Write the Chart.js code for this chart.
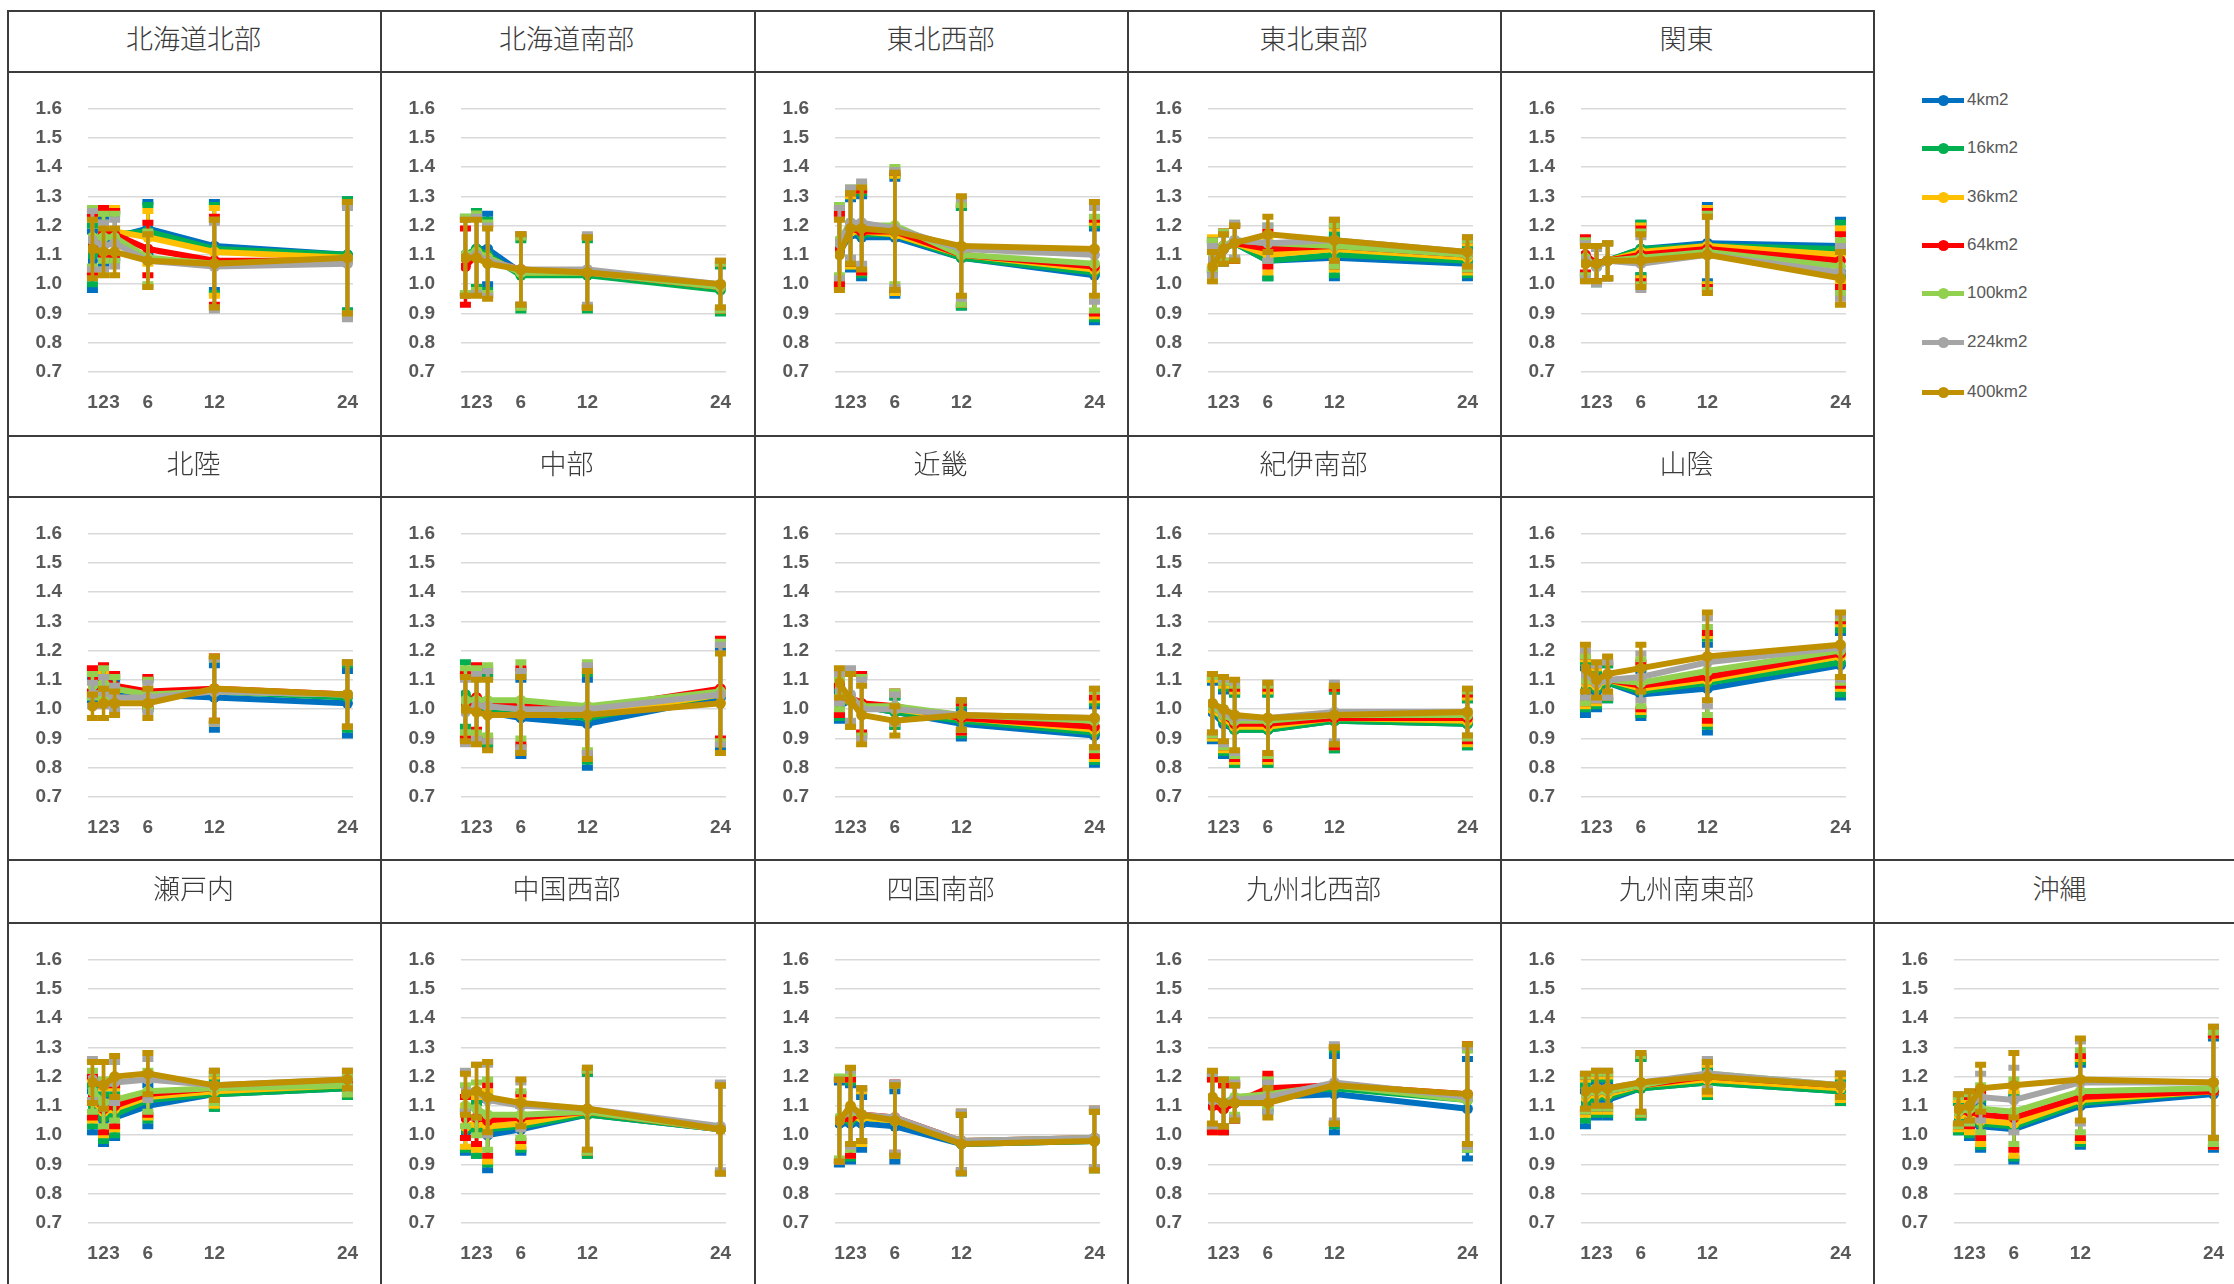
<!DOCTYPE html>
<html lang="ja">
<head>
<meta charset="utf-8">
<title>地域別 比率</title>
<script src="https://cdn.jsdelivr.net/npm/chart.js"></script>
<style>
  html, body { margin: 0; padding: 0; background: #fff; }
  body { width: 2234px; height: 1284px; position: relative; overflow: hidden; }
  .hline, .vline { position: absolute; background: #3c3c3c; }
  .title { position: absolute; text-align: center; font-family: "Noto Sans CJK JP", sans-serif;
           font-size: 27px; font-weight: 300; color: #3a3a3a; }
  canvas { position: absolute; }
  .legend { position: absolute; left: 1922px; top: 0; font-family: "Liberation Sans", Arial, sans-serif;
            font-size: 17px; color: #595959; }
  .legend .item { position: absolute; left: 0; height: 20px; white-space: nowrap; }
  .legend .sw { position: absolute; left: 0; top: 8px; width: 42px; height: 5px; }
  .legend .dot { position: absolute; left: 16px; top: 5px; width: 11px; height: 11px; border-radius: 50%; }
  .legend .txt { position: absolute; left: 45px; top: 0; line-height: 20px; }
</style>
</head>
<body>
<script>
// data
const regions = ['北海道北部', '北海道南部', '東北西部', '東北東部', '関東',
                 '北陸', '中部', '近畿', '紀伊南部', '山陰',
                 '瀬戸内', '中国西部', '四国南部', '九州北西部', '九州南東部', '沖縄'];
const xHours = [1, 2, 3, 6, 12, 24];
const yTicks = [0.7, 0.8, 0.9, 1.0, 1.1, 1.2, 1.3, 1.4, 1.5, 1.6];
const seriesNames = ['4km2', '16km2', '36km2', '64km2', '100km2', '224km2', '400km2'];
const seriesColors = ['#0070C0', '#00B050', '#FFC000', '#FF0000', '#92D050', '#A5A5A5', '#BF9000'];

// one row per region, values at 1,2,3,6,12,24
const s4km2 = [
  [1.08, 1.15, 1.16, 1.19, 1.13, 1.10], [1.09, 1.12, 1.12, 1.04, 1.04, 0.99],
  [1.11, 1.17, 1.16, 1.16, 1.09, 1.03], [1.10, 1.12, 1.14, 1.08, 1.09, 1.07],
  [1.09, 1.06, 1.08, 1.12, 1.14, 1.13], [1.07, 1.07, 1.06, 1.05, 1.04, 1.02],
  [1.01, 1.01, 0.99, 0.97, 0.95, 1.04], [1.01, 1.03, 1.01, 0.99, 0.95, 0.91],
  [0.99, 0.95, 0.93, 0.93, 0.96, 0.95], [1.06, 1.06, 1.09, 1.05, 1.07, 1.15],
  [1.08, 1.05, 1.06, 1.10, 1.14, 1.16], [1.01, 1.02, 1.00, 1.02, 1.07, 1.02],
  [1.04, 1.04, 1.04, 1.03, 0.97, 0.98], [1.11, 1.09, 1.11, 1.13, 1.14, 1.09],
  [1.09, 1.12, 1.12, 1.16, 1.18, 1.15], [1.06, 1.04, 1.03, 1.02, 1.10, 1.14]
];
const s16km2 = [
  [1.10, 1.16, 1.17, 1.18, 1.12, 1.10], [1.10, 1.12, 1.10, 1.03, 1.03, 0.98],
  [1.13, 1.18, 1.17, 1.17, 1.09, 1.04], [1.09, 1.12, 1.14, 1.08, 1.10, 1.08],
  [1.09, 1.07, 1.08, 1.12, 1.13, 1.12], [1.08, 1.09, 1.07, 1.05, 1.06, 1.04],
  [1.05, 1.02, 1.00, 0.99, 0.97, 1.05], [1.02, 1.03, 1.01, 0.99, 0.96, 0.92],
  [1.00, 0.96, 0.93, 0.93, 0.96, 0.95], [1.08, 1.07, 1.09, 1.06, 1.09, 1.16],
  [1.10, 1.06, 1.07, 1.12, 1.14, 1.16], [1.02, 1.02, 1.02, 1.03, 1.07, 1.02],
  [1.05, 1.05, 1.06, 1.05, 0.97, 0.98], [1.11, 1.10, 1.12, 1.14, 1.16, 1.12],
  [1.11, 1.13, 1.13, 1.16, 1.18, 1.15], [1.06, 1.05, 1.04, 1.03, 1.11, 1.15]
];
const s36km2 = [
  [1.14, 1.18, 1.18, 1.16, 1.11, 1.09], [1.09, 1.11, 1.09, 1.04, 1.04, 0.99],
  [1.12, 1.18, 1.18, 1.17, 1.10, 1.05], [1.11, 1.13, 1.14, 1.10, 1.12, 1.09],
  [1.08, 1.07, 1.08, 1.11, 1.13, 1.10], [1.09, 1.08, 1.07, 1.05, 1.06, 1.05],
  [1.02, 1.02, 1.01, 1.00, 0.98, 1.05], [1.03, 1.03, 1.01, 1.00, 0.97, 0.93],
  [1.00, 0.97, 0.94, 0.94, 0.97, 0.96], [1.09, 1.08, 1.10, 1.07, 1.10, 1.18],
  [1.12, 1.08, 1.09, 1.13, 1.15, 1.17], [1.03, 1.04, 1.03, 1.04, 1.08, 1.02],
  [1.05, 1.06, 1.06, 1.05, 0.98, 0.98], [1.10, 1.09, 1.12, 1.15, 1.17, 1.13],
  [1.13, 1.14, 1.14, 1.17, 1.19, 1.16], [1.07, 1.06, 1.05, 1.04, 1.12, 1.15]
];
const s64km2 = [
  [1.13, 1.18, 1.17, 1.12, 1.08, 1.08], [1.06, 1.10, 1.08, 1.05, 1.04, 0.99],
  [1.12, 1.19, 1.18, 1.18, 1.10, 1.06], [1.10, 1.13, 1.14, 1.12, 1.13, 1.10],
  [1.10, 1.07, 1.08, 1.10, 1.12, 1.08], [1.10, 1.10, 1.08, 1.06, 1.07, 1.05],
  [1.01, 1.04, 1.02, 1.01, 1.00, 1.07], [1.03, 1.04, 1.02, 1.01, 0.97, 0.94],
  [1.01, 0.98, 0.95, 0.95, 0.97, 0.97], [1.10, 1.09, 1.10, 1.08, 1.11, 1.19],
  [1.13, 1.09, 1.10, 1.14, 1.16, 1.18], [1.06, 1.06, 1.05, 1.06, 1.08, 1.02],
  [1.05, 1.06, 1.07, 1.06, 0.98, 0.99], [1.10, 1.09, 1.11, 1.16, 1.17, 1.14],
  [1.14, 1.15, 1.15, 1.17, 1.20, 1.17], [1.08, 1.08, 1.07, 1.06, 1.13, 1.15]
];
const s100km2 = [
  [1.16, 1.16, 1.16, 1.09, 1.07, 1.08], [1.10, 1.11, 1.09, 1.04, 1.04, 0.99],
  [1.15, 1.21, 1.20, 1.20, 1.10, 1.07], [1.10, 1.13, 1.15, 1.14, 1.13, 1.10],
  [1.09, 1.06, 1.08, 1.09, 1.11, 1.06], [1.08, 1.09, 1.07, 1.05, 1.06, 1.05],
  [1.03, 1.03, 1.03, 1.03, 1.01, 1.06], [1.05, 1.04, 1.01, 1.01, 0.98, 0.96],
  [1.01, 0.98, 0.96, 0.96, 0.98, 0.98], [1.10, 1.09, 1.10, 1.09, 1.13, 1.20],
  [1.15, 1.11, 1.12, 1.15, 1.16, 1.17], [1.10, 1.09, 1.07, 1.07, 1.08, 1.02],
  [1.06, 1.08, 1.07, 1.05, 0.98, 0.99], [1.12, 1.11, 1.13, 1.14, 1.17, 1.12],
  [1.14, 1.15, 1.15, 1.17, 1.21, 1.17], [1.08, 1.09, 1.09, 1.08, 1.15, 1.16]
];
const s224km2 = [
  [1.15, 1.13, 1.14, 1.08, 1.06, 1.07], [1.09, 1.10, 1.08, 1.05, 1.05, 1.00],
  [1.14, 1.21, 1.21, 1.19, 1.12, 1.10], [1.08, 1.12, 1.15, 1.14, 1.15, 1.11],
  [1.08, 1.06, 1.08, 1.07, 1.10, 1.04], [1.05, 1.06, 1.04, 1.04, 1.06, 1.05],
  [0.99, 1.01, 1.01, 1.00, 1.00, 1.05], [1.07, 1.05, 1.00, 1.00, 0.98, 0.97],
  [1.02, 0.99, 0.97, 0.97, 0.99, 0.99], [1.12, 1.09, 1.10, 1.11, 1.16, 1.21],
  [1.19, 1.17, 1.18, 1.19, 1.17, 1.19], [1.15, 1.15, 1.12, 1.10, 1.09, 1.03],
  [1.05, 1.09, 1.07, 1.06, 0.98, 0.99], [1.12, 1.11, 1.12, 1.13, 1.18, 1.13],
  [1.15, 1.16, 1.16, 1.18, 1.21, 1.17], [1.09, 1.10, 1.13, 1.12, 1.18, 1.18]
];
const s400km2 = [
  [1.12, 1.11, 1.11, 1.08, 1.07, 1.09], [1.09, 1.09, 1.07, 1.05, 1.04, 1.00],
  [1.10, 1.19, 1.19, 1.18, 1.13, 1.12], [1.06, 1.12, 1.14, 1.17, 1.15, 1.11],
  [1.07, 1.07, 1.08, 1.08, 1.10, 1.02], [1.01, 1.02, 1.02, 1.02, 1.07, 1.05],
  [1.00, 0.99, 0.98, 0.98, 0.98, 1.02], [1.09, 1.03, 0.98, 0.96, 0.98, 0.97],
  [1.02, 1.00, 0.98, 0.97, 0.98, 0.99], [1.14, 1.10, 1.12, 1.14, 1.18, 1.22],
  [1.18, 1.17, 1.20, 1.21, 1.17, 1.19], [1.14, 1.15, 1.13, 1.11, 1.09, 1.02],
  [1.05, 1.10, 1.07, 1.05, 0.97, 0.98], [1.13, 1.11, 1.11, 1.11, 1.17, 1.14],
  [1.15, 1.16, 1.16, 1.18, 1.20, 1.17], [1.09, 1.10, 1.16, 1.17, 1.19, 1.18]
];
// error bar half widths per region
const errBars = [
  [0.10, 0.08, 0.08, 0.09, 0.15, 0.19], [0.13, 0.13, 0.12, 0.12, 0.12, 0.08],
  [0.12, 0.12, 0.14, 0.20, 0.17, 0.16], [0.05, 0.05, 0.06, 0.06, 0.07, 0.05],
  [0.06, 0.06, 0.06, 0.09, 0.13, 0.09], [0.04, 0.05, 0.04, 0.05, 0.11, 0.11],
  [0.11, 0.11, 0.12, 0.13, 0.15, 0.17], [0.05, 0.09, 0.10, 0.05, 0.05, 0.10],
  [0.10, 0.11, 0.12, 0.12, 0.10, 0.08], [0.08, 0.06, 0.06, 0.08, 0.15, 0.11],
  [0.07, 0.08, 0.07, 0.07, 0.05, 0.03], [0.07, 0.09, 0.12, 0.08, 0.14, 0.15],
  [0.14, 0.13, 0.09, 0.12, 0.10, 0.10], [0.09, 0.08, 0.06, 0.05, 0.13, 0.17],
  [0.06, 0.06, 0.06, 0.10, 0.05, 0.04], [0.05, 0.05, 0.08, 0.11, 0.14, 0.19]
];
const seriesValues = [s4km2, s16km2, s36km2, s64km2, s100km2, s224km2, s400km2];

// layout of the grid
const colX = [7, 380, 754, 1127, 1500, 1873];
const rowY = [10, 435, 859];
const headerH = [61, 61, 63];
const colW = 373;
const target = { left: 81, top: 33, right: 346, bottom: 301 };

function addLine(cls, x, y, w, h) {
  const d = document.createElement('div');
  d.className = cls;
  Object.assign(d.style, { left: x + 'px', top: y + 'px', width: w + 'px', height: h + 'px' });
  document.body.appendChild(d);
}

// table lines
for (let r = 0; r < 3; r++) {
  const right = r < 2 ? colX[5] + 2 : 2234;
  addLine('hline', colX[0], rowY[r], right - colX[0], 2);
  addLine('hline', colX[0], rowY[r] + headerH[r], right - colX[0], 2);
}
colX.forEach(x => addLine('vline', x, rowY[0], 2, 1284 - rowY[0]));

const tickFont = { family: '"Liberation Sans", Arial, sans-serif', size: 19, weight: 'bold' };

const errorBarPlugin = {
  id: 'errorBars',
  beforeDatasetDraw(chart, args) {
    const ctx = chart.ctx;
    const yScale = chart.scales.y;
    const ds = chart.data.datasets[args.index];
    ctx.save();
    ctx.strokeStyle = ds.borderColor;
    args.meta.data.forEach((pt, i) => {
      const v = ds.data[i].y, e = ds.errHalf[i];
      const yTop = yScale.getPixelForValue(v + e);
      const yBot = yScale.getPixelForValue(v - e);
      ctx.lineWidth = 3.5;
      ctx.beginPath();
      ctx.moveTo(pt.x, yTop);
      ctx.lineTo(pt.x, yBot);
      ctx.stroke();
      ctx.lineWidth = 6;
      ctx.beginPath();
      ctx.moveTo(pt.x - 5.5, yTop); ctx.lineTo(pt.x + 5.5, yTop);
      ctx.moveTo(pt.x - 5.5, yBot); ctx.lineTo(pt.x + 5.5, yBot);
      ctx.stroke();
    });
    ctx.restore();
  }
};

regions.forEach((name, r) => {
  const row = r < 5 ? 0 : (r < 10 ? 1 : 2);
  const col = r < 5 ? r : (r < 10 ? r - 5 : r - 10);
  const x0 = colX[col];
  const yHead = rowY[row];
  const hH = headerH[row];

  const t = document.createElement('div');
  t.className = 'title';
  t.textContent = name;
  Object.assign(t.style, { left: x0 + 'px', top: (yHead - 3) + 'px', width: colW + 'px',
                           height: hH + 'px', lineHeight: hH + 'px' });
  document.body.appendChild(t);

  const cv = document.createElement('canvas');
  cv.width = colW;
  cv.height = 364;
  cv.style.left = x0 + 'px';
  cv.style.top = (yHead + hH) + 'px';
  document.body.appendChild(cv);

  const datasets = seriesNames.map((label, s) => ({
    label: label,
    data: xHours.map((h, i) => ({ x: h, y: seriesValues[s][r][i] })),
    errHalf: errBars[r],
    borderColor: seriesColors[s],
    backgroundColor: seriesColors[s],
    borderWidth: 6,
    pointRadius: 5.5,
    pointHoverRadius: 5.5,
    pointBorderWidth: 0,
    tension: 0,
    order: seriesNames.length - 1 - s
  }));

  const chart = new Chart(cv, {
    type: 'line',
    data: { datasets: datasets },
    options: {
      responsive: false,
      animation: false,
      events: [],
      layout: { padding: { left: 0, top: 24, right: 27, bottom: 20 } },
      plugins: { legend: { display: false }, tooltip: { enabled: false } },
      scales: {
        x: {
          type: 'linear', min: 0.6, max: 24.5,
          grid: { display: false },
          border: { display: false },
          afterBuildTicks: axis => { axis.ticks = xHours.map(v => ({ value: v })); },
          ticks: { autoSkip: false, maxRotation: 0, padding: 11, color: '#595959', font: tickFont,
                   callback: v => String(v) }
        },
        y: {
          min: 0.7, max: 1.6,
          afterFit: axis => { axis.width = target.left; },
          afterBuildTicks: axis => { axis.ticks = yTicks.map(v => ({ value: v })); },
          grid: { color: '#D9D9D9', lineWidth: 1.5, drawTicks: false },
          border: { display: false },
          ticks: { padding: 26, color: '#595959', font: tickFont,
                   callback: v => Number(v).toFixed(1) }
        }
      }
    },
    plugins: [errorBarPlugin]
  });

  // line the plot area up with the reference panel
  for (let k = 0; k < 2; k++) {
    const a = chart.chartArea;
    const p = chart.options.layout.padding;
    p.top += target.top - a.top;
    p.right += a.right - target.right;
    p.bottom += a.bottom - target.bottom;
    chart.update();
  }
});

// legend
const legend = document.createElement('div');
legend.className = 'legend';
const legendY = [100, 148, 197, 245, 293, 342, 392];
seriesNames.forEach((label, s) => {
  const it = document.createElement('div');
  it.className = 'item';
  it.style.top = (legendY[s] - 10) + 'px';
  it.innerHTML = '<div class="sw" style="background:' + seriesColors[s] + '"></div>' +
                 '<div class="dot" style="background:' + seriesColors[s] + '"></div>' +
                 '<div class="txt">' + label + '</div>';
  legend.appendChild(it);
});
document.body.appendChild(legend);
</script>
</body>
</html>
